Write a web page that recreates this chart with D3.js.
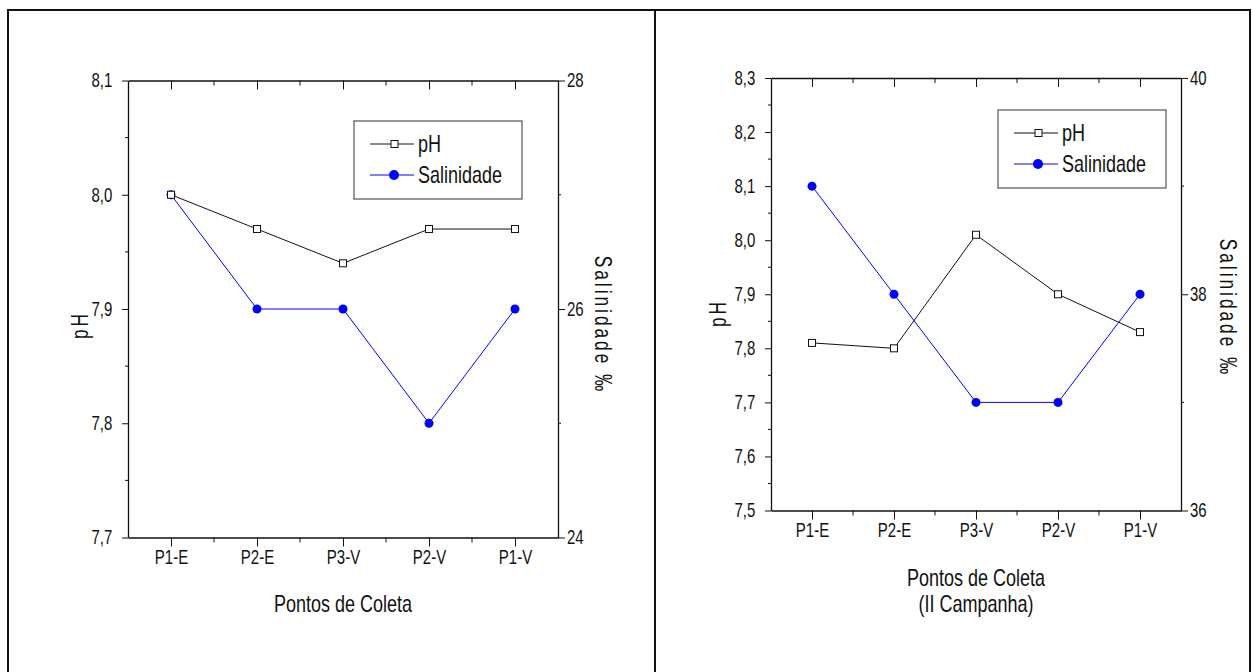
<html><head>
<meta charset="utf-8">
<script src="https://cdnjs.cloudflare.com/ajax/libs/d3/7.8.5/d3.min.js"></script>
<style>
  body { margin: 0; background: white; }
  svg text { font-family: "Liberation Sans", Arial, sans-serif; fill: #111; }
</style>
</head>
<body>
<svg id="chart" width="1253" height="672"></svg>
<script>

  // data
  const categories = ["P1-E", "P2-E", "P3-V", "P2-V", "P1-V"];

  // first campaign (left panel)
  const phI = [8.00, 7.97, 7.94, 7.97, 7.97];
  const salI = [27, 26, 26, 25, 26];
  const phTicksI = [7.7, 7.8, 7.9, 8.0, 8.1];
  const salTicksI = [24, 26, 28];

  // second campaign (right panel)
  const phII = [7.81, 7.80, 8.01, 7.90, 7.83];
  const salII = [39, 38, 37, 37, 38];
  const phTicksII = [7.5, 7.6, 7.7, 7.8, 7.9, 8.0, 8.1, 8.2, 8.3];
  const salTicksII = [36, 38, 40];

  const NARROW = 0.75; // squeeze Liberation Sans to look like Arial Narrow

  let svg = d3.select("#chart");

  // outer frame and divider
  svg.append("rect")
      .attr("x", 8).attr("y", 10)
      .attr("width", 1242).attr("height", 680)
      .style("fill", "none").style("stroke", "#111").style("stroke-width", 2);
  svg.append("line")
      .attr("x1", 655).attr("x2", 655).attr("y1", 10).attr("y2", 672)
      .style("stroke", "#111").style("stroke-width", 2);

  let comma = d => d3.format(".1f")(d).replace(".", ",");

  // text placed at (x,y), optionally rotated, squeezed horizontally
  function label(parent, x, y, rot, txt, size, anchor, spacing) {
    return parent.append("g")
        .attr("transform", "translate(" + x + "," + y + ") rotate(" + rot + ") scale(" + NARROW + ",1)")
      .append("text")
        .attr("text-anchor", anchor)
        .style("font-size", size + "px")
        .style("letter-spacing", spacing ? spacing + "px" : null)
        .text(txt);
  }

  function tickText(a) {
    a.selectAll("text").style("font-size", "20px").attr("transform", "scale(" + NARROW + ",1)");
  }

  function drawPanel(p) {
    let g = svg.append("g");
    let x = d3.scalePoint().domain(categories).range([p.left, p.right]).padding(0.5);
    let y = d3.scaleLinear().domain(d3.extent(p.phTicks)).range([p.bottom, p.top]);
    let y2 = d3.scaleLinear().domain(d3.extent(p.salTicks)).range([p.bottom, p.top]);
    let step = x.step();

    // bottom axis
    g.append("g").attr("transform", "translate(0," + p.bottom + ")")
        .call(d3.axisBottom(x).tickSize(9).tickSizeOuter(0).tickPadding(3))
        .call(tickText);
    // top axis, ticks inward
    g.append("g").attr("transform", "translate(0," + p.top + ")")
        .call(d3.axisBottom(x).tickSize(9).tickSizeOuter(0).tickFormat(""));
    // minor ticks between categories
    categories.slice(0, -1).forEach(function(c) {
      let mx = x(c) + step / 2;
      g.append("line").attr("x1", mx).attr("x2", mx).attr("y1", p.bottom).attr("y2", p.bottom + 5);
      g.append("line").attr("x1", mx).attr("x2", mx).attr("y1", p.top).attr("y2", p.top + 5);
    });

    // left axis (pH)
    g.append("g").attr("transform", "translate(" + p.left + ",0)")
        .call(d3.axisLeft(y).tickValues(p.phTicks).tickFormat(comma).tickSize(6).tickSizeOuter(0).tickPadding(15))
        .call(tickText);
    // right axis (salinity)
    g.append("g").attr("transform", "translate(" + p.right + ",0)")
        .call(d3.axisRight(y2).tickValues(p.salTicks).tickFormat(d3.format("d")).tickSize(7).tickSizeOuter(0).tickPadding(5))
        .call(tickText);
    // minor ticks on y axes
    for (let i = 0; i < p.phTicks.length - 1; i++) {
      let my = (y(p.phTicks[i]) + y(p.phTicks[i + 1])) / 2;
      g.append("line").attr("x1", p.left - 3).attr("x2", p.left).attr("y1", my).attr("y2", my);
    }
    for (let i = 0; i < p.salTicks.length - 1; i++) {
      let my = (y2(p.salTicks[i]) + y2(p.salTicks[i + 1])) / 2;
      g.append("line").attr("x1", p.right).attr("x2", p.right + 3).attr("y1", my).attr("y2", my);
    }
    g.selectAll("line").style("stroke", "#111");
    g.selectAll(".domain").style("stroke", "#111").style("stroke-width", 1.3);

    // salinity series
    let salLine = d3.line().x((d, i) => x(categories[i])).y(d => y2(d));
    g.append("path").datum(p.sal).attr("d", salLine)
        .style("fill", "none").style("stroke", "#0000ff").style("stroke-width", 1);
    g.selectAll(".sal").data(p.sal).enter().append("circle")
        .attr("cx", (d, i) => x(categories[i])).attr("cy", d => y2(d)).attr("r", 4.5)
        .style("fill", "#0000ff");

    // pH series
    let phLine = d3.line().x((d, i) => x(categories[i])).y(d => y(d));
    g.append("path").datum(p.ph).attr("d", phLine)
        .style("fill", "none").style("stroke", "#111").style("stroke-width", 1);
    g.selectAll(".ph").data(p.ph).enter().append("rect")
        .attr("x", (d, i) => x(categories[i]) - 3.5).attr("y", d => y(d) - 3.5)
        .attr("width", 7).attr("height", 7)
        .style("fill", "white").style("stroke", "#111").style("stroke-width", 1);

    // legend
    let lg = g.append("g").attr("transform", "translate(" + p.legend[0] + "," + p.legend[1] + ")");
    lg.append("rect").attr("width", p.legend[2]).attr("height", 78)
        .style("fill", "white").style("stroke", "#333").style("stroke-width", 1);
    lg.append("line").attr("x1", 16).attr("x2", 60).attr("y1", 23).attr("y2", 23).style("stroke", "#111");
    lg.append("rect").attr("x", 37).attr("y", 19.5).attr("width", 7).attr("height", 7)
        .style("fill", "white").style("stroke", "#111");
    label(lg, 64, 31, 0, "pH", 24, "start");
    lg.append("line").attr("x1", 16).attr("x2", 60).attr("y1", 54).attr("y2", 54).style("stroke", "#0000ff");
    lg.append("circle").attr("cx", 40).attr("cy", 54).attr("r", 5).style("fill", "#0000ff");
    label(lg, 64, 62, 0, "Salinidade", 24, "start");

    // axis titles
    label(g, p.phTitle[0], p.phTitle[1], -90, "pH", 23, "middle", 4).attr("dy", "0.35em");
    label(g, p.salTitle[0], p.salTitle[1], 90, "Salinidade ‰", 23, "middle", 4).attr("dy", "0.35em");
    p.xTitle.forEach(function(t, i) {
      label(g, (p.left + p.right) / 2, p.xTitleY + i * 26, 0, t, 24, "middle");
    });
  }

  drawPanel({
    left: 128, right: 558, top: 80.5, bottom: 537.5,
    ph: phI, sal: salI, phTicks: phTicksI, salTicks: salTicksI,
    legend: [354, 121, 168],
    phTitle: [80, 325], salTitle: [603, 325],
    xTitle: ["Pontos de Coleta"], xTitleY: 612
  });

  drawPanel({
    left: 771, right: 1181, top: 78, bottom: 510.5,
    ph: phII, sal: salII, phTicks: phTicksII, salTicks: salTicksII,
    legend: [998, 110, 168],
    phTitle: [718, 313], salTitle: [1228, 308],
    xTitle: ["Pontos de Coleta", "(II Campanha)"], xTitleY: 586
  });

</script>
</body>
</html>
